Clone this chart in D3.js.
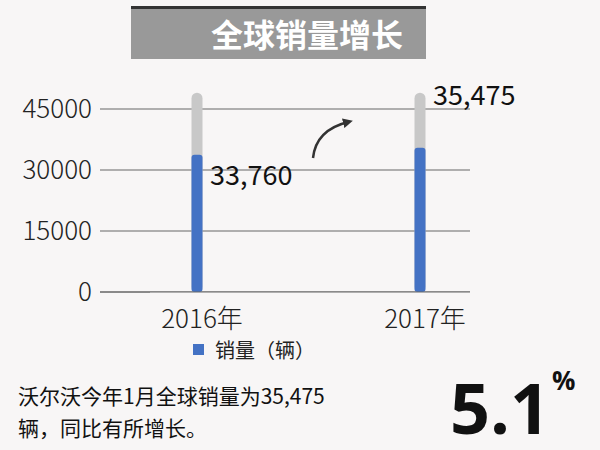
<!DOCTYPE html>
<html><head><meta charset="utf-8">
<script src="https://cdn.jsdelivr.net/npm/d3@7"></script>
<style>body{margin:0;background:#f8f6f6}</style>
</head><body>
<script>
const years = ["2016年", "2017年"];
const sales = [33760, 35475];
const labels = ["33,760", "35,475"];
const maxBar = 49000;
const ticks = [0, 15000, 30000, 45000];

const font = "'Noto Sans CJK SC', 'Open Sans', sans-serif";
const svg = d3.select("body").append("svg").attr("width", 600).attr("height", 450)
  .style("background", "#f8f6f6");

// title
svg.append("rect").attr("x", 131).attr("y", 6).attr("width", 295).attr("height", 3).attr("fill", "#333");
svg.append("rect").attr("x", 131).attr("y", 9).attr("width", 295).attr("height", 50).attr("fill", "#999");
svg.append("text").attr("x", 307).attr("y", 47).attr("text-anchor", "middle")
  .attr("font-family", font).attr("font-weight", "bold").attr("font-size", 32).attr("fill", "#fff")
  .text("全球销量增长");

const y = d3.scaleLinear().domain([0, 45000]).range([292, 109]);
const x = d3.scalePoint().domain(years).range([197, 420]);

const g = svg.append("g");
g.selectAll("line.grid").data(ticks).enter().append("line")
  .attr("x1", 100).attr("x2", 470).attr("y1", d => y(d)).attr("y2", d => y(d))
  .attr("stroke", "#666").attr("stroke-width", 1);
g.selectAll("text.tick").data(ticks).enter().append("text")
  .attr("x", 92).attr("y", d => y(d) + 9).attr("text-anchor", "end")
  .attr("font-family", font).attr("font-size", 26).attr("font-weight", 300).attr("fill", "#222")
  .text(d => d);

const bw = 11;
g.selectAll("rect.bg").data(years).enter().append("rect")
  .attr("x", d => x(d) - bw / 2).attr("width", bw)
  .attr("y", y(maxBar)).attr("height", y(0) - y(maxBar)).attr("rx", 5.5)
  .attr("fill", "#c8c8c8");
g.selectAll("rect.bar").data(sales).enter().append("rect")
  .attr("x", (d, i) => x(years[i]) - bw / 2).attr("width", bw)
  .attr("y", d => y(d)).attr("height", d => y(0) - y(d)).attr("rx", 3)
  .attr("fill", "#4472c4");
g.append("rect").attr("x", 150).attr("y", 292).attr("width", 350).attr("height", 8).attr("fill", "#f8f6f6");
g.append("line").attr("x1", 100).attr("x2", 470).attr("y1", 292).attr("y2", 292).attr("stroke", "#666");

// value labels
g.append("text").attr("x", x(years[0]) + 13).attr("y", y(sales[0]) + 30)
  .attr("font-family", font).attr("font-size", 27).attr("fill", "#111").text(labels[0]);
g.append("text").attr("x", x(years[1]) + 13).attr("y", y(maxBar) + 12)
  .attr("font-family", font).attr("font-size", 27).attr("fill", "#111").text(labels[1]);

// arrow
svg.append("defs").append("marker").attr("id", "ah").attr("viewBox", "0 0 10 10")
  .attr("refX", 5).attr("refY", 5).attr("markerWidth", 4).attr("markerHeight", 4).attr("orient", "auto")
  .append("path").attr("d", "M0,0L10,5L0,10z").attr("fill", "#333");
svg.append("path").attr("d", "M313,158 Q316,130 348,122").attr("fill", "none")
  .attr("stroke", "#333").attr("stroke-width", 2.5).attr("marker-end", "url(#ah)");

// x labels
g.selectAll("text.xl").data(years).enter().append("text")
  .attr("x", d => x(d) + 5).attr("y", 328).attr("text-anchor", "middle")
  .attr("font-family", font).attr("font-size", 26).attr("font-weight", 300).attr("fill", "#222").text(d => d);

// legend
svg.append("rect").attr("x", 193).attr("y", 344).attr("width", 11).attr("height", 11).attr("fill", "#4472c4");
svg.append("text").attr("x", 215).attr("y", 358).attr("font-family", font).attr("font-size", 20)
  .attr("fill", "#222").text("销量（辆）");

// description
svg.append("text").attr("x", 18).attr("y", 404).attr("font-family", font).attr("font-size", 21)
  .attr("fill", "#111").text("沃尔沃今年1月全球销量为35,475");
svg.append("text").attr("x", 18).attr("y", 436).attr("font-family", font).attr("font-size", 21)
  .attr("fill", "#111").text("辆，同比有所增长。");
svg.append("text").attr("x", 450).attr("y", 434).attr("font-family", "'Open Sans', sans-serif")
  .attr("font-weight", "bold").attr("font-size", 70).attr("fill", "#111").text("5.1");
svg.append("text").attr("x", 552).attr("y", 390).attr("font-family", "'Open Sans', sans-serif")
  .attr("font-weight", "bold").attr("font-size", 26).attr("fill", "#111").text("%");
</script>
</body></html>
